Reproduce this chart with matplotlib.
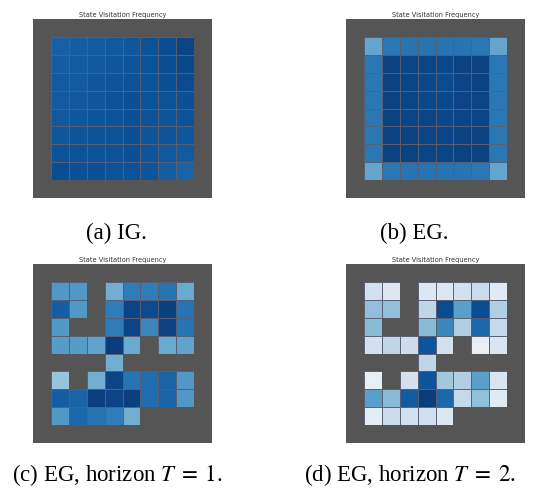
import numpy as np
import matplotlib.pyplot as plt
from matplotlib import cm
from matplotlib.colors import ListedColormap

plt.rcParams['mathtext.fontset'] = 'stix'

# Interior 8x8 of a 10x10 gridworld; NaN marks a wall cell
W = np.nan

freq_ig = [
    [0.81, 0.82, 0.83, 0.84, 0.85, 0.87, 0.89, 0.92],
    [0.82, 0.83, 0.84, 0.85, 0.86, 0.87, 0.89, 0.91],
    [0.83, 0.83, 0.85, 0.86, 0.87, 0.87, 0.88, 0.90],
    [0.83, 0.84, 0.85, 0.87, 0.88, 0.87, 0.87, 0.88],
    [0.84, 0.85, 0.86, 0.87, 0.88, 0.87, 0.86, 0.87],
    [0.85, 0.86, 0.87, 0.87, 0.88, 0.86, 0.86, 0.85],
    [0.87, 0.87, 0.87, 0.87, 0.88, 0.86, 0.84, 0.83],
    [0.89, 0.88, 0.88, 0.87, 0.87, 0.86, 0.82, 0.80],
]

freq_eg = [
    [0.52, 0.72, 0.73, 0.73, 0.73, 0.73, 0.72, 0.52],
    [0.72, 0.93, 0.92, 0.92, 0.91, 0.93, 0.93, 0.72],
    [0.72, 0.93, 0.92, 0.91, 0.90, 0.92, 0.93, 0.72],
    [0.72, 0.93, 0.92, 0.91, 0.91, 0.92, 0.92, 0.72],
    [0.72, 0.93, 0.92, 0.92, 0.91, 0.92, 0.92, 0.72],
    [0.72, 0.93, 0.93, 0.92, 0.92, 0.93, 0.93, 0.72],
    [0.72, 0.93, 0.93, 0.92, 0.92, 0.93, 0.93, 0.72],
    [0.52, 0.72, 0.73, 0.73, 0.73, 0.73, 0.72, 0.52],
]

freq_t1 = [
    [0.58, 0.58, W,    0.48, 0.70, 0.70, 0.73, 0.50],
    [0.82, 0.58, W,    0.70, 0.92, 0.90, 0.94, 0.73],
    [0.58, W,    W,    0.70, 0.92, 0.66, 0.93, 0.73],
    [0.56, 0.56, 0.53, 0.95, 0.50, W,    0.50, 0.53],
    [W,    W,    W,    0.48, W,    W,    W,    W],
    [0.38, W,    0.48, 0.92, 0.73, 0.76, 0.80, 0.58],
    [0.82, 0.80, 0.94, 0.92, 0.94, 0.76, 0.80, 0.58],
    [0.58, 0.78, 0.73, 0.70, 0.48, W,    W,    W],
]

freq_t2 = [
    [0.15, 0.10, W,    0.10, 0.10, 0.15, 0.20, 0.08],
    [0.40, 0.40, W,    0.25, 0.90, 0.55, 0.89, 0.30],
    [0.42, W,    W,    0.42, 0.65, 0.30, 0.78, 0.22],
    [0.15, 0.25, 0.18, 0.86, 0.15, W,    0.05, 0.12],
    [W,    W,    W,    0.25, W,    W,    W,    W],
    [0.05, W,    0.15, 0.86, 0.35, 0.30, 0.55, 0.12],
    [0.55, 0.42, 0.83, 0.95, 0.78, 0.22, 0.40, 0.08],
    [0.07, 0.20, 0.15, 0.17, 0.10, W,    W,    W],
]

captions = [r'(a) IG.', r'(b) EG.',
            r'(c) EG, horizon $T\;=\;1$.', r'(d) EG, horizon $T\;=\;2$.']
panels = [freq_ig, freq_eg, freq_t1, freq_t2]

wall_color = '#555555'

fig = plt.figure(figsize=(5.48, 4.89), dpi=100)

# axes rectangles in figure fractions (left, bottom, width, height)
boxes = [
    (33 / 548, 1 - 199 / 489, 179 / 548, 179 / 489),
    (346 / 548, 1 - 199 / 489, 179 / 548, 179 / 489),
    (33 / 548, 1 - 444 / 489, 179 / 548, 179 / 489),
    (346 / 548, 1 - 444 / 489, 179 / 548, 179 / 489),
]
caption_pos = [(116, 233), (414, 233), (117, 475), (410, 475)]

cmap = cm.get_cmap('Blues')

for data, box, cap, (cx, cy) in zip(panels, boxes, captions, caption_pos):
    ax = fig.add_axes(box)
    grid = np.full((10, 10), np.nan)
    grid[1:9, 1:9] = np.array(data)
    ax.set_facecolor(wall_color)
    ax.pcolormesh(np.ma.masked_invalid(grid), cmap=cmap, vmin=0, vmax=1,
                  alpha=0.96, edgecolors=(0.35, 0.37, 0.45, 0.25),
                  linewidth=0.6)
    # walls drawn over the mesh so they carry no cell outlines
    walls = np.ma.masked_where(~np.isnan(grid), np.ones_like(grid))
    ax.pcolormesh(walls, cmap=ListedColormap([wall_color]),
                  edgecolors='face', linewidth=0)
    ax.set_xlim(0, 10)
    ax.set_ylim(10, 0)
    ax.set_xticks([])
    ax.set_yticks([])
    for s in ax.spines.values():
        s.set_visible(False)
    ax.set_title('State Visitation Frequency', fontsize=4.8, pad=2, color='#333333')
    fig.text(cx / 548, 1 - cy / 489, cap, ha='center', va='center',
             fontsize=16.5, family='Liberation Serif')

fig.savefig('out.png', dpi=100)
